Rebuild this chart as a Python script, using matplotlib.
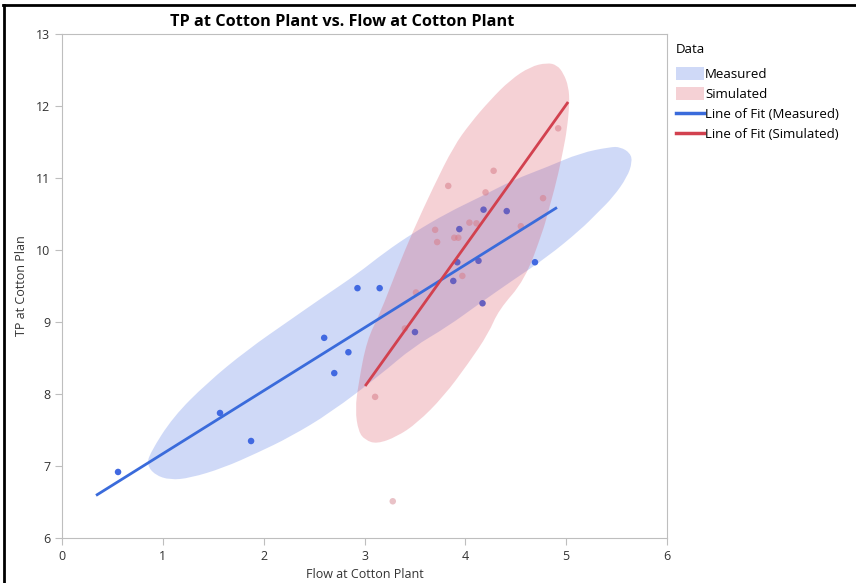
import numpy as np
import matplotlib
matplotlib.use('Agg')
import matplotlib.pyplot as plt
from matplotlib.patches import PathPatch, Patch
from matplotlib.path import Path
from matplotlib.lines import Line2D

plt.rcParams['font.family'] = ['Open Sans', 'DejaVu Sans']

# measured data (flow, TP)
meas_x = [0.556, 1.567, 1.875, 2.60, 2.84, 2.70, 2.93, 3.15, 3.50, 3.88, 3.92, 3.94, 4.13, 4.18, 4.17, 4.41, 4.69]
meas_y = [6.917, 7.736, 7.347, 8.78, 8.58, 8.29, 9.47, 9.47, 8.86, 9.57, 9.83, 10.29, 9.85, 10.56, 9.26, 10.54, 9.83]

# simulated data
sim_x = [3.28, 3.105, 3.40, 3.51, 3.97, 3.72, 3.89, 3.93, 3.70, 4.04, 4.11, 4.55, 4.77, 4.20, 3.83, 4.28, 4.92]
sim_y = [6.51, 7.96, 8.91, 9.41, 9.64, 10.11, 10.17, 10.17, 10.28, 10.38, 10.37, 10.33, 10.72, 10.80, 10.89, 11.10, 11.69]

# ellipse outlines
meas_ell_x = [0.843, 0.873, 1.101, 1.438, 1.835, 2.262, 2.589, 2.927, 3.204, 3.482, 3.819, 4.147, 4.474, 4.812,
              5.139, 5.437, 5.536, 5.635, 5.655, 5.605, 5.466, 5.308, 5.139, 4.812, 4.474, 4.147, 3.819, 3.482,
              3.155, 2.659, 2.262, 1.935, 1.597, 1.270, 1.071, 0.923]
meas_ell_y = [7.014, 7.181, 7.681, 8.153, 8.611, 9.028, 9.347, 9.667, 9.972, 10.236, 10.514, 10.736, 10.972,
              11.153, 11.347, 11.431, 11.431, 11.347, 11.222, 11.014, 10.736, 10.514, 10.278, 9.903, 9.583,
              9.264, 8.931, 8.653, 8.264, 7.736, 7.403, 7.181, 6.972, 6.833, 6.806, 6.875]
sim_ell_x = [4.643, 4.809, 4.908, 4.973, 5.023, 5.033, 5.007, 4.970, 4.908, 4.812, 4.772, 4.590, 4.330, 4.230,
             4.030, 3.783, 3.519, 3.320, 3.122, 3.006, 2.940, 2.907, 2.940, 3.023, 3.155, 3.320, 3.485, 3.684,
             3.882, 4.048, 4.246, 4.444]
sim_ell_y = [12.546, 12.601, 12.569, 12.454, 12.268, 12.038, 11.667, 11.389, 10.972, 10.486, 10.278, 9.583,
             9.167, 8.843, 8.426, 7.963, 7.593, 7.407, 7.306, 7.361, 7.476, 7.778, 8.149, 8.750, 9.121, 9.722,
             10.278, 10.879, 11.435, 11.760, 12.083, 12.361]

labels = ['Measured', 'Simulated', 'Line of Fit (Measured)', 'Line of Fit (Simulated)']
blue = '#4169E1'
pink = '#D9485A'
red = '#D2414F'


def fit_line(x, y):
    x = np.array(x)
    y = np.array(y)
    slope, icpt = np.polyfit(x, y, 1)
    pad = 0.05 * (x.max() - x.min())
    xs = np.array([x.min() - pad, x.max() + pad])
    return xs, slope * xs + icpt


def smooth_outline(xs, ys):
    # closed quadratic b-spline path: traced points as controls, midpoints on the curve
    p = np.column_stack([xs, ys])
    n = len(p)
    mids = (p + np.roll(p, -1, axis=0)) / 2
    verts = [mids[-1]]
    codes = [Path.MOVETO]
    for i in range(n):
        verts += [p[i], mids[i]]
        codes += [Path.CURVE3, Path.CURVE3]
    verts.append(mids[-1])
    codes.append(Path.CLOSEPOLY)
    return Path(verts, codes)


fig = plt.figure(figsize=(8.56, 5.83), dpi=100)
ax = fig.add_axes([0.0724, 0.0772, 0.7069, 0.8645])

ax.add_patch(PathPatch(smooth_outline(meas_ell_x, meas_ell_y), facecolor=blue, alpha=0.25,
                       edgecolor='none', zorder=1))
ax.scatter(meas_x, meas_y, s=22, color=blue, edgecolors='none', zorder=2)
ax.scatter(sim_x, sim_y, s=22, color='#D8909A', alpha=0.55, edgecolors='none', zorder=2)
ax.add_patch(PathPatch(smooth_outline(sim_ell_x, sim_ell_y), facecolor=pink, alpha=0.25,
                       edgecolor='none', zorder=3))

lx, ly = fit_line(meas_x, meas_y)
ax.plot(lx, ly, color='#3A6BDB', lw=2, zorder=4)
lx, ly = fit_line(sim_x, sim_y)
ax.plot(lx, ly, color=red, lw=2, zorder=4)

ax.set_xlim(0, 6)
ax.set_ylim(6, 13)
ax.set_xticks(range(0, 7))
ax.set_yticks(range(6, 14))
for s in ax.spines.values():
    s.set_color('#BEBEBE')
ax.tick_params(colors='#BEBEBE', labelcolor='#333333', labelsize=9, length=5)
ax.set_xlabel('Flow at Cotton Plant', fontsize=9, color='#333333', labelpad=4)
ax.set_ylabel('TP at Cotton Plan', fontsize=9, color='#333333', labelpad=6)
fig.text(0.400, 0.963, 'TP at Cotton Plant vs. Flow at Cotton Plant', fontsize=11.7, fontweight='bold',
         ha='center', va='center')

handles = [Patch(facecolor=blue, alpha=0.25, edgecolor='none'),
           Patch(facecolor=pink, alpha=0.25, edgecolor='none'),
           Line2D([], [], color='#3A6BDB', lw=2.5),
           Line2D([], [], color=red, lw=2.5)]
leg = fig.legend(handles, labels, title='Data', loc='upper left', bbox_to_anchor=(0.7835, 0.935),
                 frameon=False, fontsize=9.5, title_fontsize=9.5, handlelength=2.1, handleheight=1.15,
                 handletextpad=0.1, labelspacing=0.45, borderaxespad=0)
leg._legend_box.align = 'left'
leg._legend_box.sep = 8

# black frame lines at top and left of the figure
fig.add_artist(Line2D([0.004, 1], [0.991, 0.991], color='black', lw=2, transform=fig.transFigure))
fig.add_artist(Line2D([0.005, 0.005], [0, 0.992], color='black', lw=2, transform=fig.transFigure))

fig.savefig('out.png', dpi=100)
